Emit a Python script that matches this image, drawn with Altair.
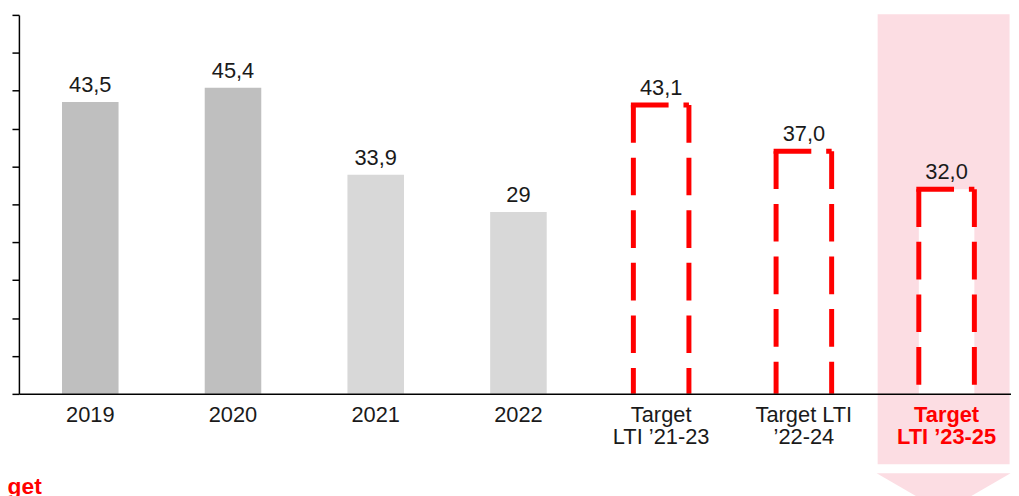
import altair as alt
import pandas as pd

categories = ["2019", "2020", "2021", "2022",
              "Target\nLTI \u201921-23", "Target LTI\n\u201922-24", "Target\nLTI \u201923-25"]
values = [43.5, 45.4, 33.9, 29.0, 43.1, 37.0, 32.0]
value_labels = ["43,5", "45,4", "33,9", "29", "43,1", "37,0", "32,0"]
kinds = ["dark", "dark", "light", "light", "target", "target", "target"]
axis_min = 5
axis_max = 55
tick_values = list(range(5, 56, 5))
highlight_category = categories[-1]
highlight_top = 55.1
highlight_bottom = -4.3
arrow_top = -5.47

df = pd.DataFrame({"cat": categories, "value": values, "label": value_labels,
                   "kind": kinds, "base": [axis_min] * len(categories)})
actual = df[df.kind != "target"]
targets = df[df.kind == "target"]
hl = pd.DataFrame({"cat": [highlight_category], "top": [highlight_top],
                   "bottom": [highlight_bottom], "arrow": [arrow_top]})

FONT = "Liberation Sans"
RED = "#FF0000"
PINK = "#FCDDE3"

xscale = alt.Scale(domain=categories, range=[0, 1007], paddingInner=0, paddingOuter=0)
x_axis = alt.Axis(labelAngle=0, ticks=False, domainColor="#000000", domainWidth=1.5,
                  labelFont=FONT, labelFontSize=22, labelLineHeight=22, labelPadding=11,
                  labelLimit=300, labelOverlap=False, zindex=2,
                  labelExpr="split(datum.label, '\\n')",
                  labelColor={"condition": {"test": "indexof(datum.value, '23-25') >= 0", "value": RED},
                              "value": "#1a1a1a"},
                  labelFontWeight={"condition": {"test": "indexof(datum.value, '23-25') >= 0", "value": "bold"},
                                   "value": "normal"})
x = alt.X("cat:N", sort=categories, scale=xscale, title=None, axis=x_axis)
yscale = alt.Scale(domain=[axis_min, axis_max], zero=False, nice=False)
y_axis = alt.Axis(values=tick_values, tickCount=len(tick_values), labels=False, labelOverlap=False,
                  tickSize=7, tickColor="#000000", tickWidth=1.5, zindex=2,
                  domainColor="#000000", domainWidth=1.5, grid=False, title=None)


def Y(field):
    return alt.Y(field, scale=yscale, axis=y_axis)


band = alt.Chart(hl).mark_bar(size=133, color=PINK, xOffset=-3).encode(
    x=x, y=Y("top:Q"), y2="bottom:Q")
arrow = alt.Chart(hl).mark_point(shape="M-1,0L1,0L0,0.58Z", size=18225, filled=True,
                                 color=PINK, opacity=1, xOffset=-3).encode(
    x=x, y=Y("arrow:Q"))

bars = alt.Chart(actual).mark_bar(size=57).encode(
    x=x, y=Y("value:Q"), y2="base:Q",
    color=alt.Color("kind:N", scale=alt.Scale(domain=["dark", "light"], range=["#BFBFBF", "#D8D8D8"]),
                    legend=None))

fill = alt.Chart(targets).mark_bar(size=56, color="#FFFFFF").encode(
    x=x, y=Y("value:Q"), y2="base:Q")

dash = [38, 15]
left = alt.Chart(targets).mark_rule(color=RED, strokeWidth=5, strokeDash=dash, xOffset=-28).encode(
    x=x, y=Y("value:Q"), y2="base:Q")
right = alt.Chart(targets).mark_rule(color=RED, strokeWidth=5, strokeDash=dash, xOffset=28).encode(
    x=x, y=Y("value:Q"), y2="base:Q")
top = alt.Chart(targets).mark_rule(color=RED, strokeWidth=5, strokeDash=dash,
                                   xOffset=-30.5, x2Offset=28).encode(
    x=x, x2="cat", y=Y("value:Q"))

labels = alt.Chart(df).mark_text(font=FONT, fontSize=22, color="#1a1a1a", baseline="alphabetic",
                                 dy=-10).encode(
    x=x, y=Y("value:Q"), text="label:N")

note = alt.Chart(hl).mark_text(text="Target", font=FONT, fontSize=23, fontWeight="bold", color=RED,
                               align="right", baseline="alphabetic").encode(
    x=alt.value(23), y=alt.value(483))

chart = alt.layer(band, arrow, bars, fill, left, right, top, labels, note).properties(
    width=1000, height=382,
    padding={"left": 11, "top": 5, "right": 0, "bottom": 101},
    autosize=alt.AutoSizeParams(type="none"),
).configure_view(stroke=None)

chart.save("out.html", embed_options={"renderer": "svg", "actions": False})
